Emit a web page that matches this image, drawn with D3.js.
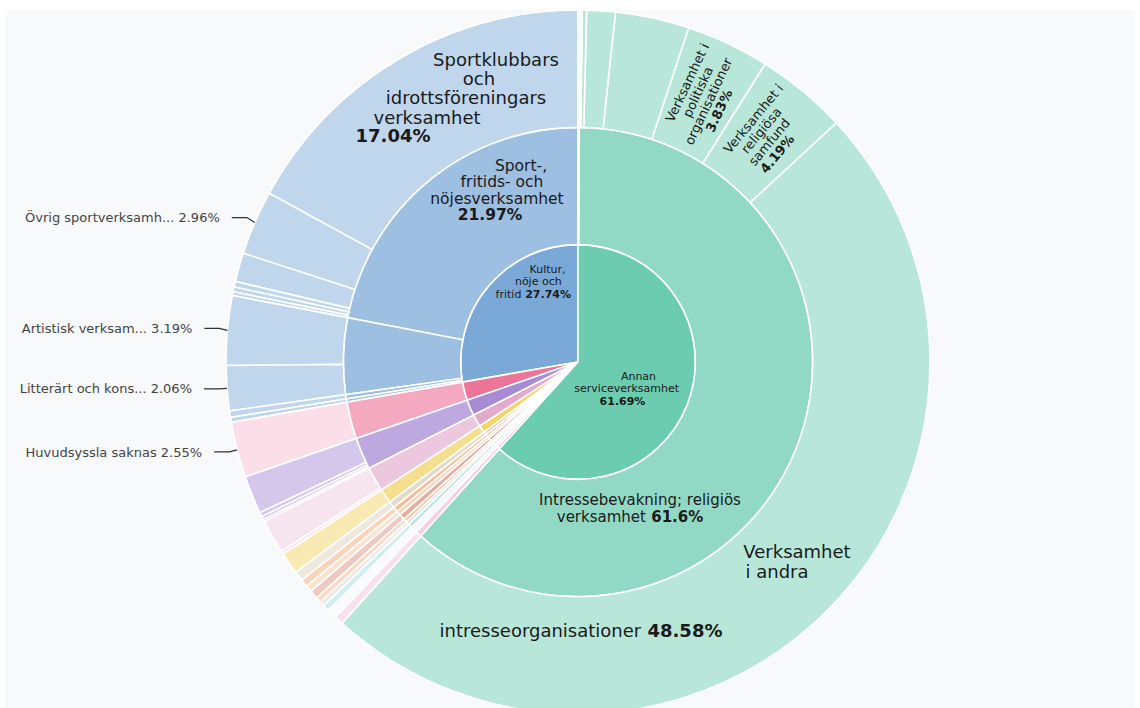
<!DOCTYPE html>
<html>
<head>
<meta charset="utf-8">
<script src="https://cdn.jsdelivr.net/npm/d3@7"></script>
<style>
  body { margin: 0; background: #fff; }
  svg { display: block; font-family: "DejaVu Sans", sans-serif; }
</style>
</head>
<body>
<svg width="1140" height="708"></svg>
<script>
// Inre ringen: sektorer (ordning moturs från kl 12)
const sectors = [
  "Kultur, nöje och fritid",
  "Huvudsyssla saknas",
  "Utbildning",
  "Vård och omsorg; sociala tjänster",
  "Handel",
  "Tillverkning",
  "Byggverksamhet",
  "Information och kommunikation",
  "Juridik, ekonomi, vetenskap och teknik",
  "Uthyrning, fastighetsservice, resetjänster",
  "Hotell- och restaurangverksamhet",
  "Transport och magasinering",
  "Offentlig förvaltning och försvar",
  "Fastighetsverksamhet",
  "Annan serviceverksamhet"
];
const sectorColors = [
  "#7aa9d8", "#ed7599", "#a68bd5", "#e4aacb", "#f2d363",
  "#d9cdb8", "#f2a66e", "#f5c29c", "#dc8f80", "#f4b07c",
  "#d8d2cc", "#9fdcdc", "#f3f4f7", "#f2bedb", "#6cccb0"
];

// Mellersta ringen: [namn, sektor]
const branches = [
  ["Sport-, fritids- och nöjesverksamhet", "Kultur, nöje och fritid"],
  ["Artistisk och kulturell verksamhet", "Kultur, nöje och fritid"],
  ["Biblioteks-, arkiv- och museiverksamhet", "Kultur, nöje och fritid"],
  ["Spel- och vadhållningsverksamhet", "Kultur, nöje och fritid"],
  ["Huvudsyssla saknas", "Huvudsyssla saknas"],
  ["Utbildning", "Utbildning"],
  ["Öppna sociala insatser", "Vård och omsorg; sociala tjänster"],
  ["Detaljhandel", "Handel"],
  ["Tillverkning", "Tillverkning"],
  ["Byggverksamhet", "Byggverksamhet"],
  ["Information och kommunikation", "Information och kommunikation"],
  ["Juridik, ekonomi, vetenskap och teknik", "Juridik, ekonomi, vetenskap och teknik"],
  ["Uthyrning, fastighetsservice, resetjänster", "Uthyrning, fastighetsservice, resetjänster"],
  ["Hotell- och restaurangverksamhet", "Hotell- och restaurangverksamhet"],
  ["Transport och magasinering", "Transport och magasinering"],
  ["Offentlig förvaltning och försvar", "Offentlig förvaltning och försvar"],
  ["Fastighetsverksamhet", "Fastighetsverksamhet"],
  ["Intressebevakning; religiös verksamhet", "Annan serviceverksamhet"],
  ["Andra konsumenttjänstföretag", "Annan serviceverksamhet"]
];

// Yttre ringen: [namn, gren, andel i %]
const leaves = [
  ["Sportklubbars och idrottsföreningars verksamhet", "Sport-, fritids- och nöjesverksamhet", 17.04],
  ["Övrig sportverksamhet", "Sport-, fritids- och nöjesverksamhet", 2.96],
  ["Drift av sportanläggningar", "Sport-, fritids- och nöjesverksamhet", 1.33],
  ["Gymanläggningar", "Sport-, fritids- och nöjesverksamhet", 0.25],
  ["Övrig fritids- och nöjesverksamhet", "Sport-, fritids- och nöjesverksamhet", 0.22],
  ["Nöjes- och temaparksverksamhet", "Sport-, fritids- och nöjesverksamhet", 0.17],
  ["Artistisk verksamhet", "Artistisk och kulturell verksamhet", 3.19],
  ["Litterärt och konstnärligt skapande", "Artistisk och kulturell verksamhet", 2.06],
  ["Biblioteks- och arkivverksamhet", "Biblioteks-, arkiv- och museiverksamhet", 0.30],
  ["Spel- och vadhållningsverksamhet", "Spel- och vadhållningsverksamhet", 0.22],
  ["Huvudsyssla saknas", "Huvudsyssla saknas", 2.55],
  ["Övrig utbildning", "Utbildning", 1.75],
  ["Gymnasial utbildning", "Utbildning", 0.20],
  ["Eftergymnasial utbildning", "Utbildning", 0.15],
  ["Förskoleutbildning", "Utbildning", 0.10],
  ["Annan öppen social verksamhet", "Öppna sociala insatser", 1.55],
  ["Dagbarnvård", "Öppna sociala insatser", 0.15],
  ["Detaljhandel", "Detaljhandel", 1.00],
  ["Tillverkning", "Tillverkning", 0.45],
  ["Byggverksamhet", "Byggverksamhet", 0.35],
  ["Information och kommunikation", "Information och kommunikation", 0.30],
  ["Juridik, ekonomi, vetenskap och teknik", "Juridik, ekonomi, vetenskap och teknik", 0.40],
  ["Uthyrning, fastighetsservice, resetjänster", "Uthyrning, fastighetsservice, resetjänster", 0.25],
  ["Hotell- och restaurangverksamhet", "Hotell- och restaurangverksamhet", 0.22],
  ["Transport och magasinering", "Transport och magasinering", 0.30],
  ["Offentlig förvaltning och försvar", "Offentlig förvaltning och försvar", 0.45],
  ["Fastighetsverksamhet", "Fastighetsverksamhet", 0.40],
  ["Verksamhet i andra intresseorganisationer", "Intressebevakning; religiös verksamhet", 48.58],
  ["Verksamhet i religiösa samfund", "Intressebevakning; religiös verksamhet", 4.19],
  ["Verksamhet i politiska organisationer", "Intressebevakning; religiös verksamhet", 3.83],
  ["Verksamhet i näringslivsorganisationer", "Intressebevakning; religiös verksamhet", 3.39],
  ["Verksamhet i arbetstagarorganisationer", "Intressebevakning; religiös verksamhet", 1.31],
  ["Verksamhet i yrkesorganisationer", "Intressebevakning; religiös verksamhet", 0.20],
  ["Verksamhet i arbetsgivarorganisationer", "Intressebevakning; religiös verksamhet", 0.10],
  ["Andra konsumenttjänstföretag", "Andra konsumenttjänstföretag", 0.09]
];

// Etiketter utanför diagrammet (förkortade namn)
const outsideNames = ["Övrig sportverksamhet", "Artistisk verksamhet", "Litterärt och konstnärligt skapande", "Huvudsyssla saknas"];
const outsideShort = ["Övrig sportverksamh...", "Artistisk verksam...", "Litterärt och kons...", "Huvudsyssla saknas"];

// ---- bygg hierarkin ----
const rootData = { name: "root", children: sectors.map((s, i) => ({ name: s, color: sectorColors[i], children: [] })) };
const sectorByName = new Map(rootData.children.map(d => [d.name, d]));
const branchByName = new Map();
branches.forEach(([name, parent]) => {
  const b = { name, children: [] };
  branchByName.set(name, b);
  sectorByName.get(parent).children.push(b);
});
leaves.forEach(([name, parent, value]) => branchByName.get(parent).children.push({ name, value }));

const root = d3.hierarchy(rootData).sum(d => d.value);
d3.partition().size([2 * Math.PI, 4])(root);
root.descendants().forEach(d => {
  if (d.depth === 1) { d.base = d.data.color; d.sector = d.data.name; }
  else if (d.depth > 1) { d.base = d.parent.base; d.sector = d.parent.sector; }
});

const cx = 578, cy = 362, R = 352;
const svg = d3.select("svg");

svg.append("rect").attr("x", 5).attr("y", 10).attr("width", 1130).attr("height", 700).attr("fill", "#f8f9fb");

const rad = d3.scaleLinear().domain([1, 4]).range([0, R]);
// hur mycket varje ring bleks mot vitt
const lighten = [0, 0, 0.26, 0.52];
const extraFade = { "Huvudsyssla saknas": 0.12, "Vård och omsorg; sociala tjänster": 0.08 };

const arc = d3.arc()
  .startAngle(d => -d.x1)
  .endAngle(d => -d.x0)
  .innerRadius(d => rad(d.y0))
  .outerRadius(d => rad(d.y1));

const g = svg.append("g").attr("transform", `translate(${cx},${cy})`);

g.selectAll("path")
  .data(root.descendants().filter(d => d.depth > 0))
  .enter().append("path")
  .attr("d", arc)
  .attr("fill", d => {
    const t = lighten[d.depth] + (d.depth > 1 ? (extraFade[d.sector] || 0) * (d.depth - 1) : 0);
    return d3.interpolateRgb(d.base, "#ffffff")(t);
  })
  .attr("stroke", "#ffffff")
  .attr("stroke-width", 1.6);

const pct = v => (+v.toFixed(2)) + "%";
const find = (name, depth) => root.descendants().find(d => d.data.name === name && d.depth === depth);

// ---- etiketter inne i sektorerna ----
const insideLabels = [
  { name: "Annan serviceverksamhet", depth: 1, size: 11, lines: ["Annan", "serviceverksamhet", ""],
    pos: [[60.5, 14], [48.7, 26.5], [44.5, 39]] },
  { name: "Kultur, nöje och fritid", depth: 1, size: 11, lines: ["Kultur,", "nöje och", "fritid"],
    pos: [[-30.5, -93], [-39.7, -80.5], [-44.7, -68]] },
  { name: "Sport-, fritids- och nöjesverksamhet", depth: 2, size: 15.5, lines: ["Sport-,", "fritids- och", "nöjesverksamhet", ""],
    pos: [[-57, -197], [-76, -180.5], [-81, -164], [-88, -147.7]] },
  { name: "Sportklubbars och idrottsföreningars verksamhet", depth: 3, size: 18,
    lines: ["Sportklubbars", "och", "idrottsföreningars", "verksamhet", ""],
    pos: [[-82, -302], [-99, -283], [-112, -264], [-151, -244.8], [-185, -226]] },
  { name: "Intressebevakning; religiös verksamhet", depth: 2, size: 15, lines: ["Intressebevakning; religiös", "verksamhet"],
    pos: [[62, 138], [52, 155]] },
  { name: "Verksamhet i andra intresseorganisationer", depth: 3, size: 18, lines: ["Verksamhet", "i andra", "intresseorganisationer"],
    pos: [[219, 190], [199, 210], [3, 269]] }
];

insideLabels.forEach(lab => {
  const node = find(lab.name, lab.depth);
  lab.lines.forEach((line, i) => {
    const t = g.append("text")
      .attr("x", lab.pos[i][0])
      .attr("y", lab.pos[i][1])
      .attr("dy", "0.36em")
      .attr("text-anchor", "middle")
      .attr("font-size", lab.size)
      .attr("fill", "#1a1a1a");
    if (line) t.append("tspan").text(line);
    if (i === lab.lines.length - 1) {
      t.append("tspan").attr("font-weight", "bold").text((line ? " " : "") + pct(node.value));
    }
  });
});

// ---- radiella etiketter ----
const radialLabels = [
  { name: "Verksamhet i politiska organisationer", lines: ["Verksamhet i", "politiska", "organisationer"] },
  { name: "Verksamhet i religiösa samfund", lines: ["Verksamhet i", "religiösa", "samfund"] }
];
radialLabels.forEach(lab => {
  const node = find(lab.name, 3);
  const [x, y] = arc.centroid(node);
  const mid = -(node.x0 + node.x1) / 2 * 180 / Math.PI;
  const rg = g.append("g").attr("transform", `translate(${x},${y}) rotate(${mid - 90})`);
  const all = lab.lines.concat([null]);
  const n = all.length;
  all.forEach((line, i) => {
    const k = i - (n - 1) / 2;
    const t = rg.append("text")
      .attr("x", -k * 4)
      .attr("y", k * 13.6)
      .attr("dy", "0.36em")
      .attr("text-anchor", "middle")
      .attr("font-size", 13)
      .attr("fill", "#1a1a1a");
    if (line) t.text(line);
    else t.attr("font-weight", "bold").text(pct(node.value));
  });
});

// ---- etiketter utanför med ledarlinjer ----
const nudge = [-5, -2, 0.5, 2];
outsideNames.forEach((name, i) => {
  const node = find(name, 3);
  const a = -(node.x0 + node.x1) / 2;
  const px = R * Math.sin(a), py = -R * Math.cos(a);
  const ly = py + nudge[i];
  g.append("path")
    .attr("d", d3.line()([[px - 23, ly], [px - 8, ly], [px, py]]))
    .attr("fill", "none")
    .attr("stroke", "#333")
    .attr("stroke-width", 1.2);
  g.append("text")
    .attr("x", px - 35)
    .attr("y", ly)
    .attr("dy", "0.36em")
    .attr("text-anchor", "end")
    .attr("font-size", 13)
    .attr("fill", "#444")
    .text(outsideShort[i] + " " + pct(node.value));
});
</script>
</body>
</html>
